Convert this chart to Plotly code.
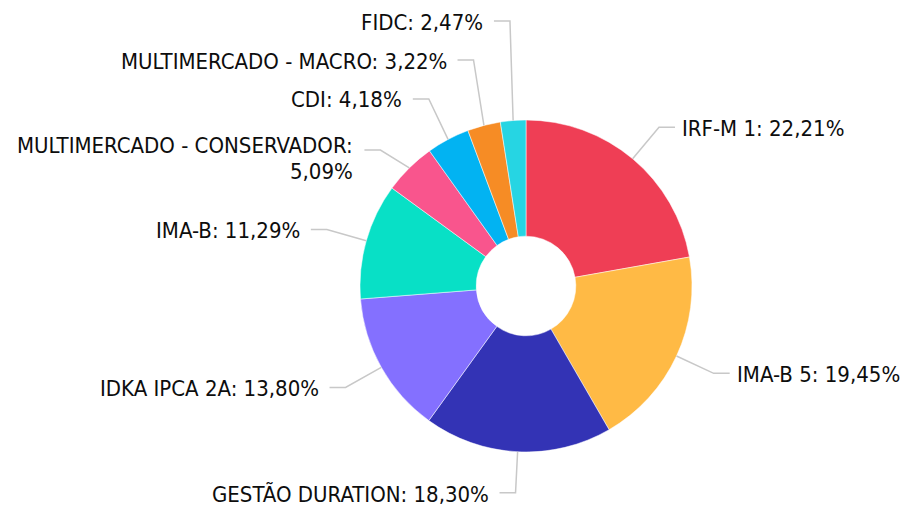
import math
import plotly.graph_objects as go

# ---- data ----
categories = ["IRF-M 1", "IMA-B 5", "GESTÃO DURATION", "IDKA IPCA 2A", "IMA-B",
              "MULTIMERCADO - CONSERVADOR", "CDI", "MULTIMERCADO - MACRO", "FIDC"]
values = [22.21, 19.45, 18.30, 13.80, 11.29, 5.09, 4.18, 3.22, 2.47]
colors = ["#EF3E55", "#FFBA45", "#3333B5", "#8470FF", "#08E0C6",
          "#F9558D", "#02B3F2", "#F68C25", "#26D5E3"]

# ---- layout constants (pixels) ----
W, H = 909, 508
CX, CY, R = 526, 286, 166
HOLE = 0.30
ELBOW_R = R + 41
SEG = 16
GAP_R, GAP_L = 5, 9
BOX_H = 39
LINE_H = 25
TOP_MIN = 21
FONT = "DejaVu Sans Condensed, DejaVu Sans, sans-serif"
FSIZE = 22
LINE_COLOR = "#c8c8c8"
WRAP_LEN = 24


def fmt(v):
    return f"{v:.2f}".replace(".", ",") + "%"


def px(x):
    return x / W


def py(y):
    return 1 - y / H


total = sum(values)
labels = []
cum = 0.0
for name, v in zip(categories, values):
    th = 2 * math.pi * (cum + v / 2) / total
    cum += v
    s, c = math.sin(th), math.cos(th)
    side = 1 if s >= 0 else -1
    if len(name) > WRAP_LEN:
        lines = [name + ":", fmt(v)]
    else:
        lines = [f"{name}: {fmt(v)}"]
    h = BOX_H + (len(lines) - 1) * (LINE_H - 1)
    labels.append(dict(side=side, sx=CX + R * s, sy=CY - R * c,
                       ex=CX + ELBOW_R * s, y=CY - ELBOW_R * c,
                       lines=lines, h=h))

# distribute labels on each side to avoid overlaps
for side in (1, -1):
    grp = sorted([l for l in labels if l["side"] == side], key=lambda l: l["y"])
    for i in range(len(grp) - 2, -1, -1):
        grp[i]["y"] = min(grp[i]["y"], grp[i + 1]["y"] - (grp[i]["h"] + grp[i + 1]["h"]) / 2)
    for i in range(len(grp)):
        lo = TOP_MIN if i == 0 else grp[i - 1]["y"] + (grp[i - 1]["h"] + grp[i]["h"]) / 2
        grp[i]["y"] = max(grp[i]["y"], lo)

fig = go.Figure()
fig.add_trace(go.Pie(
    labels=categories, values=values, sort=False, direction="clockwise", rotation=0,
    hole=HOLE, textinfo="none", showlegend=False,
    marker=dict(colors=colors, line=dict(color="#ffffff", width=0.5)),
    domain=dict(x=[px(CX - R), px(CX + R)], y=[py(CY + R), py(CY - R)]),
    hoverinfo="label+percent",
))

shapes, annotations = [], []
for l in labels:
    ex, y, side = l["ex"], l["y"], l["side"]
    x2 = ex + side * SEG
    path = (f"M {px(l['sx'])},{py(l['sy'])} L {px(ex)},{py(y)} L {px(x2)},{py(y)}")
    shapes.append(dict(type="path", xref="paper", yref="paper", path=path,
                       line=dict(color=LINE_COLOR, width=1.5)))
    tx = x2 + side * (GAP_R if side > 0 else GAP_L)
    n = len(l["lines"])
    first = y + 1 if n == 1 else y - 4
    for k, txt in enumerate(l["lines"]):
        annotations.append(dict(
            x=px(tx), y=py(first + k * LINE_H), xref="paper", yref="paper",
            text=txt, showarrow=False, xanchor="left" if side > 0 else "right",
            yanchor="middle", align="left" if side > 0 else "right",
            font=dict(family=FONT, size=FSIZE, color="#0d0d0d")))

fig.update_layout(
    width=W, height=H, margin=dict(l=0, r=0, t=0, b=0),
    paper_bgcolor="#ffffff", plot_bgcolor="#ffffff",
    shapes=shapes, annotations=annotations,
    font=dict(family=FONT, size=FSIZE),
)
fig.write_html("out.html", config={"displayModeBar": False},
               post_script="document.body.style.margin='0';document.body.style.overflow='hidden';")
